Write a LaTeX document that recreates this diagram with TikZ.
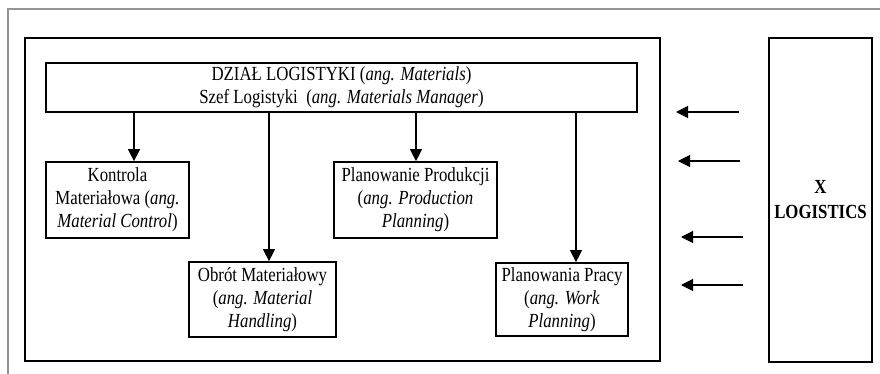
\documentclass[tikz,border=0pt]{standalone}
\usepackage{fontspec}
\setmainfont[FakeStretch=0.84]{Liberation Serif}
\usetikzlibrary{arrows.meta}
\begin{document}
\begin{tikzpicture}[x=1pt,y=-1pt,
  box/.style={draw,line width=1.7pt,rectangle,inner sep=0pt,align=center,font=\fontsize{20}{23}\selectfont},
  arr/.style={line width=1.1pt,-{Triangle[length=12pt,width=12pt]}},
  frame/.style={draw=black!42,line width=1.4pt}]
\useasboundingbox (0,0) rectangle (880,374);
\draw[frame] (8,374) -- (8,9) -- (880,9);
\node[box,line width=1.9pt,minimum width=635,minimum height=323] (dept) at (342.5,199.5) {};
\node[box,line width=2.6pt,minimum width=591,minimum height=49] (head) at (341.5,87.5)
  {DZIAŁ LOGISTYKI (\textit{ang. Materials})\\Szef Logistyki\ \ (\textit{ang. Materials Manager})};
\node[box,minimum width=143,minimum height=76] (kon) at (117.5,200)
  {Kontrola\\Materiałowa (\textit{ang.}\\\textit{Material\ Control})};
\node[box,minimum width=147,minimum height=75] (obr) at (262.5,299.5)
  {Obrót\ Materiałowy\\(\textit{ang. Material}\\\textit{Handling})};
\node[box,minimum width=163,minimum height=76] (pp) at (415.5,200)
  {Planowanie Produkcji\\(\textit{ang. Production}\\\textit{Planning})};
\node[box,minimum width=132,minimum height=73] (ppr) at (562,299.5)
  {Planowania Pracy\\(\textit{ang. Work}\\\textit{Planning})};
\node[box,minimum width=103,minimum height=324,font=\fontsize{20}{25}\selectfont\bfseries] (xl) at (820.5,200)
  {X\\LOGISTICS};
\coordinate (c1) at (134,0);
\coordinate (c2) at (269,0);
\coordinate (c3) at (416,0);
\coordinate (c4) at (576,0);
\draw[arr] (head.south -| c1) -- (kon.north -| c1);
\draw[arr] (head.south -| c2) -- (obr.north -| c2);
\draw[arr] (head.south -| c3) -- (pp.north -| c3);
\draw[arr] (head.south -| c4) -- (ppr.north -| c4);
\coordinate (a1s) at (739,112);
\coordinate (a1e) at (676,112);
\coordinate (a2s) at (740,161);
\coordinate (a2e) at (678,161);
\coordinate (a3s) at (743,237);
\coordinate (a3e) at (681,237);
\coordinate (a4s) at (743,285);
\coordinate (a4e) at (681,285);
\draw[arr] (a1s) -- (a1e);
\draw[arr] (a2s) -- (a2e);
\draw[arr] (a3s) -- (a3e);
\draw[arr] (a4s) -- (a4e);
\end{tikzpicture}
\end{document}
